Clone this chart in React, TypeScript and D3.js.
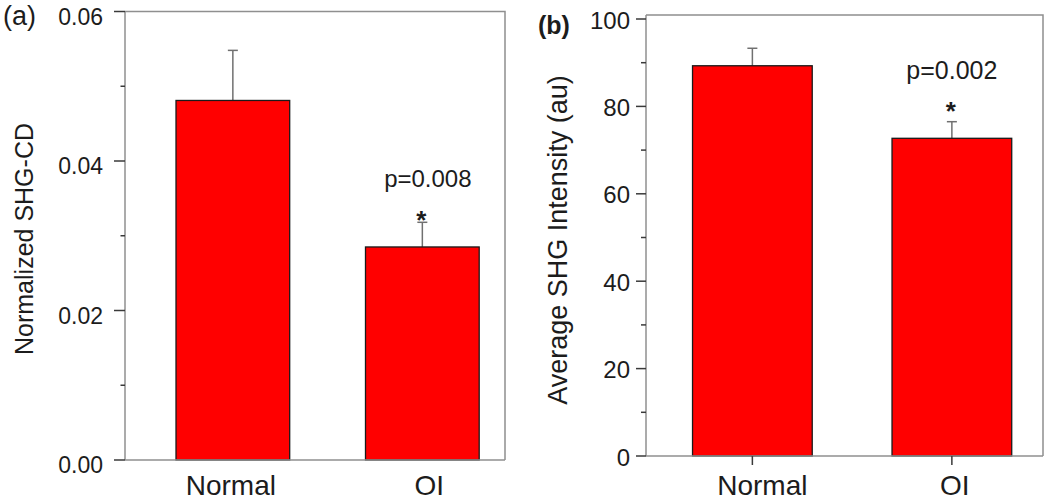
import React from "react";
import * as d3 from "d3";

// ---------- data ----------
const categories = ["Normal", "OI"];

const shgCdMeans = [0.0481, 0.0285];
const shgCdErrors = [0.0067, 0.0033];
const shgCdMajorTicks = [0, 0.02, 0.04, 0.06];
const shgCdMinorTicks = [0.01, 0.03, 0.05];
const shgCdTickLabels = ["0.00", "0.02", "0.04", "0.06"];

const intensityMeans = [89.3, 72.7];
const intensityErrors = [4.0, 3.8];
const intensityMajorTicks = [0, 20, 40, 60, 80, 100];
const intensityMinorTicks = [10, 30, 50, 70, 90];
const intensityTickLabels = ["0", "20", "40", "60", "80", "100"];

const pLabels = ["p=0.008", "p=0.002"];
const yTitles = ["Normalized SHG-CD", "Average SHG Intensity (au)"];
const panelLetters = ["(a)", "(b)"];

const FONT = "'Liberation Sans', Arial, Helvetica, sans-serif";
const TEXT = "#1c1c1c";
const FRAME = "#8f8f8f";
const TICK = "#3a3a3a";
const ERR = "#707070";
const BAR = "#ff0000";

type PanelProps = {
  means: number[];
  errors: number[];
  majorTicks: number[];
  minorTicks: number[];
  tickLabels: string[];
  yMax: number;
  frameMax: number;
  left: number;
  right: number;
  top: number;
  bottom: number;
  padInner: number;
  padOuter: number;
  align: number;
  majorLen: number;
  minorLen: number;
  labelGap: number;
  tickFont: number;
  tickDy: number;
  xTicks: boolean;
  xLabelDx: number[];
  title: string;
  titleX: number;
  titleY: number;
  titleFont: number;
  letter: string;
  letterX: number;
  letterY: number;
  letterFont: number;
  letterBold: boolean;
  pText: string;
  pDx: number;
  pGap: number;
  starGap: number;
  pFont: number;
};

function Panel(p: PanelProps) {
  const y = d3.scaleLinear().domain([0, p.yMax]).range([p.bottom, p.top]);
  const x = d3
    .scaleBand<string>()
    .domain(categories)
    .range([p.left, p.right])
    .paddingInner(p.padInner)
    .paddingOuter(p.padOuter)
    .align(p.align);
  const bw = x.bandwidth();
  const frameTop = y(p.frameMax);
  const y0 = y(0);
  const capHalf = 5;
  const oiIdx = 1;
  const oiCenter = (x(categories[oiIdx]) as number) + bw / 2;
  const oiCapY = y(p.means[oiIdx] + p.errors[oiIdx]);

  return (
    <g>
      {/* frame */}
      <path
        d={`M${p.left},${frameTop}H${p.right}V${y0}`}
        fill="none"
        stroke={FRAME}
        strokeWidth={1.5}
      />
      {/* bars */}
      {categories.map((c, i) => {
        const cx = (x(c) as number) + bw / 2;
        const top = y(p.means[i]);
        const eTop = y(p.means[i] + p.errors[i]);
        return (
          <g key={c}>
            <line x1={cx} x2={cx} y1={top} y2={eTop} stroke={ERR} strokeWidth={1.5} />
            <line x1={cx - capHalf} x2={cx + capHalf} y1={eTop} y2={eTop} stroke={ERR} strokeWidth={1.5} />
            <rect
              x={x(c)}
              y={top}
              width={bw}
              height={y0 - top}
              fill={BAR}
              stroke="#1a1a1a"
              strokeWidth={1.3}
            />
          </g>
        );
      })}
      {/* bottom axis line */}
      <line x1={p.left} x2={p.right} y1={y0} y2={y0} stroke={FRAME} strokeWidth={1.5} />
      {/* left axis line */}
      <line x1={p.left} x2={p.left} y1={frameTop} y2={y0} stroke={FRAME} strokeWidth={1.5} />
      {/* y ticks */}
      {p.majorTicks.map((t, i) => (
        <g key={"M" + t}>
          <line
            x1={p.left - p.majorLen}
            x2={p.left}
            y1={y(t)}
            y2={y(t)}
            stroke={TICK}
            strokeWidth={1.5}
          />
          <text
            x={p.left - p.majorLen - p.labelGap}
            y={y(t) + p.tickDy}
            textAnchor="end"
            dominantBaseline="central"
            fontFamily={FONT}
            fontSize={p.tickFont}
            fill={TEXT}
          >
            {p.tickLabels[i]}
          </text>
        </g>
      ))}
      {p.minorTicks.map((t) => (
        <line
          key={"m" + t}
          x1={p.left - p.minorLen}
          x2={p.left}
          y1={y(t)}
          y2={y(t)}
          stroke={TICK}
          strokeWidth={1.5}
        />
      ))}
      {/* x ticks and labels */}
      {categories.map((c, i) => {
        const cx = (x(c) as number) + bw / 2;
        return (
          <g key={"x" + c}>
            {p.xTicks && (
              <line x1={cx} x2={cx} y1={y0} y2={y0 + 9} stroke={TICK} strokeWidth={1.5} />
            )}
            <text
              x={cx + p.xLabelDx[i]}
              y={495}
              textAnchor="middle"
              fontFamily={FONT}
              fontSize={28}
              fill={TEXT}
            >
              {c}
            </text>
          </g>
        );
      })}
      {/* significance */}
      <text
        x={oiCenter + p.pDx}
        y={oiCapY - p.pGap}
        textAnchor="middle"
        fontFamily={FONT}
        fontSize={p.pFont}
        fill={TEXT}
      >
        {p.pText}
      </text>
      <text
        x={oiCenter - 1}
        y={oiCapY - p.starGap + 15}
        textAnchor="middle"
        fontFamily={FONT}
        fontSize={26}
        fontWeight="bold"
        fill={TEXT}
      >
        *
      </text>
      {/* y title */}
      <text
        transform={`translate(${p.titleX},${p.titleY}) rotate(-90)`}
        textAnchor="middle"
        fontFamily={FONT}
        fontSize={p.titleFont}
        fill={TEXT}
      >
        {p.title}
      </text>
      {/* panel letter */}
      <text
        x={p.letterX}
        y={p.letterY}
        fontFamily={FONT}
        fontSize={p.letterFont}
        fontWeight={p.letterBold ? "bold" : "normal"}
        fill={TEXT}
      >
        {p.letter}
      </text>
    </g>
  );
}

export default function App() {
  return (
    <svg
      width={1050}
      height={504}
      viewBox="0 0 1050 504"
      style={{ position: "absolute", left: 0, top: 0, background: "#fff" }}
    >
      <rect width={1050} height={504} fill="#fff" />
      <Panel
        means={shgCdMeans}
        errors={shgCdErrors}
        majorTicks={shgCdMajorTicks}
        minorTicks={shgCdMinorTicks}
        tickLabels={shgCdTickLabels}
        yMax={0.06}
        frameMax={0.06}
        left={125}
        right={505}
        top={11.5}
        bottom={460}
        padInner={0.4}
        padOuter={0.2027}
        align={0.664}
        majorLen={11}
        minorLen={4.5}
        labelGap={11}
        tickFont={23}
        tickDy={5}
        xTicks={false}
        xLabelDx={[-2, 7]}
        title={yTitles[0]}
        titleX={33}
        titleY={239}
        titleFont={25}
        letter={panelLetters[0]}
        letterX={3}
        letterY={25}
        letterFont={27}
        letterBold={false}
        pText={pLabels[0]}
        pDx={5.5}
        pGap={35}
        starGap={8.7}
        pFont={24}
      />
      <Panel
        means={intensityMeans}
        errors={intensityErrors}
        majorTicks={intensityMajorTicks}
        minorTicks={intensityMinorTicks}
        tickLabels={intensityTickLabels}
        yMax={100}
        frameMax={100.9}
        left={646}
        right={1043}
        top={19}
        bottom={456}
        padInner={0.4}
        padOuter={0.195}
        align={0.598}
        majorLen={10}
        minorLen={5}
        labelGap={6}
        tickFont={24}
        tickDy={1}
        xTicks={true}
        xLabelDx={[10, 3]}
        title={yTitles[1]}
        titleX={567}
        titleY={240}
        titleFont={27}
        letter={panelLetters[1]}
        letterX={538}
        letterY={34}
        letterFont={25}
        letterBold={true}
        pText={pLabels[1]}
        pDx={0}
        pGap={42.4}
        starGap={16.7}
        pFont={25}
      />
    </svg>
  );
}
